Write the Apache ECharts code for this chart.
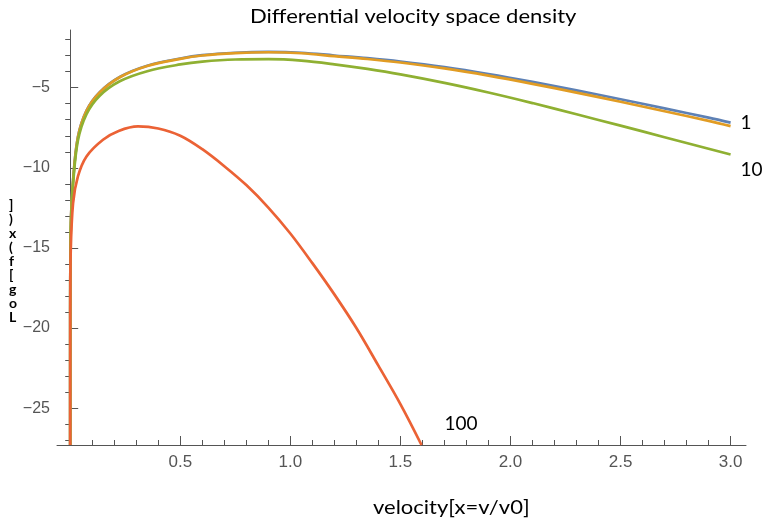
<!DOCTYPE html>
<html>
<head>
<meta charset="utf-8">
<script src="https://cdn.jsdelivr.net/npm/echarts@6/dist/echarts.min.js"></script>
<style>
    html, body { margin: 0; padding: 0; background: #fff; }
    #chart { width: 763px; height: 526px; }
</style>
</head>
<body>
<div id="chart"></div>
<script>
// shared velocity grid for the three upper curves
const xGrid = [0.00001, 0.0001, 0.001, 0.004, 0.013, 0.035, 0.074, 0.134, 0.225, 0.35, 0.5, 0.6,
    0.75, 0.9, 1.05, 1.2, 1.35, 1.5, 1.7, 1.9, 2.1, 2.3, 2.5, 2.7, 2.9, 3.0];

const series1 = [-27.3, -19.0, -15.4, -13.0, -10.78, -8.08, -6.43, -5.28, -4.33, -3.63, -3.18, -2.97,
    -2.82, -2.77, -2.82, -2.99, -3.16, -3.37, -3.72, -4.15, -4.64, -5.17, -5.72, -6.29, -6.87, -7.18];
const seriesB = [-27.3, -19.0, -15.4, -13.0, -10.8, -8.1, -6.45, -5.3, -4.35, -3.65, -3.2, -2.99,
    -2.84, -2.79, -2.85, -3.03, -3.21, -3.43, -3.8, -4.25, -4.76, -5.31, -5.88, -6.47, -7.07, -7.4];
const series10 = [-27.3, -19.2, -15.6, -13.2, -11.0, -8.3, -6.65, -5.5, -4.6, -3.97, -3.55, -3.37,
    -3.24, -3.22, -3.31, -3.54, -3.83, -4.17, -4.7, -5.3, -5.96, -6.66, -7.37, -8.09, -8.81, -9.17];

// the 100 curve has its own grid (it leaves the plot at x ~ 1.6)
const x100 = [0.00001, 0.0001, 0.0005, 0.002, 0.013, 0.035, 0.074, 0.149, 0.22, 0.308, 0.4, 0.5,
    0.6, 0.7, 0.8, 0.9, 1.0, 1.1, 1.2, 1.3, 1.4, 1.5, 1.596];
const series100 = [-27.3, -20.5, -17.8, -15.4, -12.2, -10.54, -9.29, -8.25, -7.7, -7.42, -7.55, -8.0,
    -8.84, -9.9, -11.08, -12.48, -14.1, -15.95, -17.9, -20.0, -22.35, -24.75, -27.3];

const xMajor = [0.5, 1.0, 1.5, 2.0, 2.5, 3.0];
const xMinor = [0.1, 0.2, 0.3, 0.4, 0.6, 0.7, 0.8, 0.9, 1.1, 1.2, 1.3, 1.4, 1.6, 1.7, 1.8, 1.9,
    2.1, 2.2, 2.3, 2.4, 2.6, 2.7, 2.8, 2.9];
const yMajor = [-25, -20, -15, -10, -5];
const yMinor = [-27, -26, -24, -23, -22, -21, -19, -18, -17, -16, -14, -13, -12, -11,
    -9, -8, -7, -6, -4, -3, -2];

const zip = (xs, ys) => xs.map((x, i) => [x, ys[i]]);

const axisColor = '#555';
const labelFont = '"Liberation Sans", Arial, sans-serif';
const textFont = 'Lato, "Open Sans", sans-serif';

function makeLine(name, xs, ys, color, label, offset) {
    const s = {
        name,
        type: 'line',
        xAxisIndex: 0,
        yAxisIndex: 0,
        data: zip(xs, ys),
        showSymbol: false,
        smooth: 0.35,
        clip: true,
        lineStyle: { color, width: 2.7 },
        itemStyle: { color }
    };
    if (label) {
        s.endLabel = {
            show: true,
            formatter: label,
            offset,
            color: '#000',
            fontFamily: textFont,
            fontSize: 19
        };
    }
    return s;
}

const chart = echarts.init(document.getElementById('chart'));

chart.setOption({
    animation: false,
    backgroundColor: '#fff',
    grid: { left: 57, right: 17, top: 30, bottom: 81, containLabel: false },
    xAxis: [
        {
            type: 'value',
            min: -0.06,
            max: 3.07,
            axisLine: { show: true, onZero: false, lineStyle: { color: axisColor, width: 1 } },
            axisTick: { show: true, inside: true, length: 9, customValues: xMajor,
                lineStyle: { color: axisColor } },
            axisLabel: { customValues: xMajor, formatter: v => v.toFixed(1), margin: 9,
                color: '#555', fontFamily: labelFont, fontSize: 17 },
            splitLine: { show: false }
        },
        {
            type: 'value',
            min: -0.06,
            max: 3.07,
            position: 'bottom',
            axisLine: { show: false, onZero: false },
            axisTick: { show: true, inside: true, length: 5, customValues: xMinor,
                lineStyle: { color: axisColor } },
            axisLabel: { show: false },
            splitLine: { show: false }
        }
    ],
    yAxis: [
        {
            type: 'value',
            min: -27.3,
            max: -1.4,
            axisLine: { show: true, onZero: true, onZeroAxisIndex: 0,
                lineStyle: { color: axisColor, width: 1 } },
            axisTick: { show: true, inside: true, length: 8, customValues: yMajor,
                lineStyle: { color: axisColor } },
            axisLabel: { customValues: yMajor, formatter: v => '\u2212' + Math.abs(v), margin: 7,
                color: '#555', fontFamily: labelFont, fontSize: 16 },
            splitLine: { show: false }
        },
        {
            type: 'value',
            min: -27.3,
            max: -1.4,
            axisLine: { show: false, onZero: true, onZeroAxisIndex: 0 },
            axisTick: { show: true, inside: true, length: 5, customValues: yMinor,
                lineStyle: { color: axisColor } },
            axisLabel: { show: false },
            splitLine: { show: false }
        }
    ],
    graphic: [
        {
            type: 'text', x: 250, y: 7, scaleX: 1.16,
            style: { text: 'Differential velocity space density', fill: '#000',
                font: '19px ' + textFont }
        },
        {
            type: 'text', x: 373, y: 498, scaleX: 1.1,
            style: { text: 'velocity[x=v/v0]', fill: '#000', font: '20px ' + textFont }
        },
        {
            type: 'text', x: 9, y: 198,
            style: { text: 'Log[f(x)]'.split('').reverse().join('\n'), fill: '#000',
                font: 'bold 14px ' + textFont, lineHeight: 14 }
        }
    ],
    series: [
        makeLine('1', xGrid, series1, '#5E81B5', '1', [2, 0]),
        makeLine('b', xGrid, seriesB, '#E19C24'),
        makeLine('10', xGrid, series10, '#8FB032', '10', [2, 15]),
        makeLine('100', x100, series100, '#EB6235', '100', [15, -21])
    ]
});
</script>
</body>
</html>
